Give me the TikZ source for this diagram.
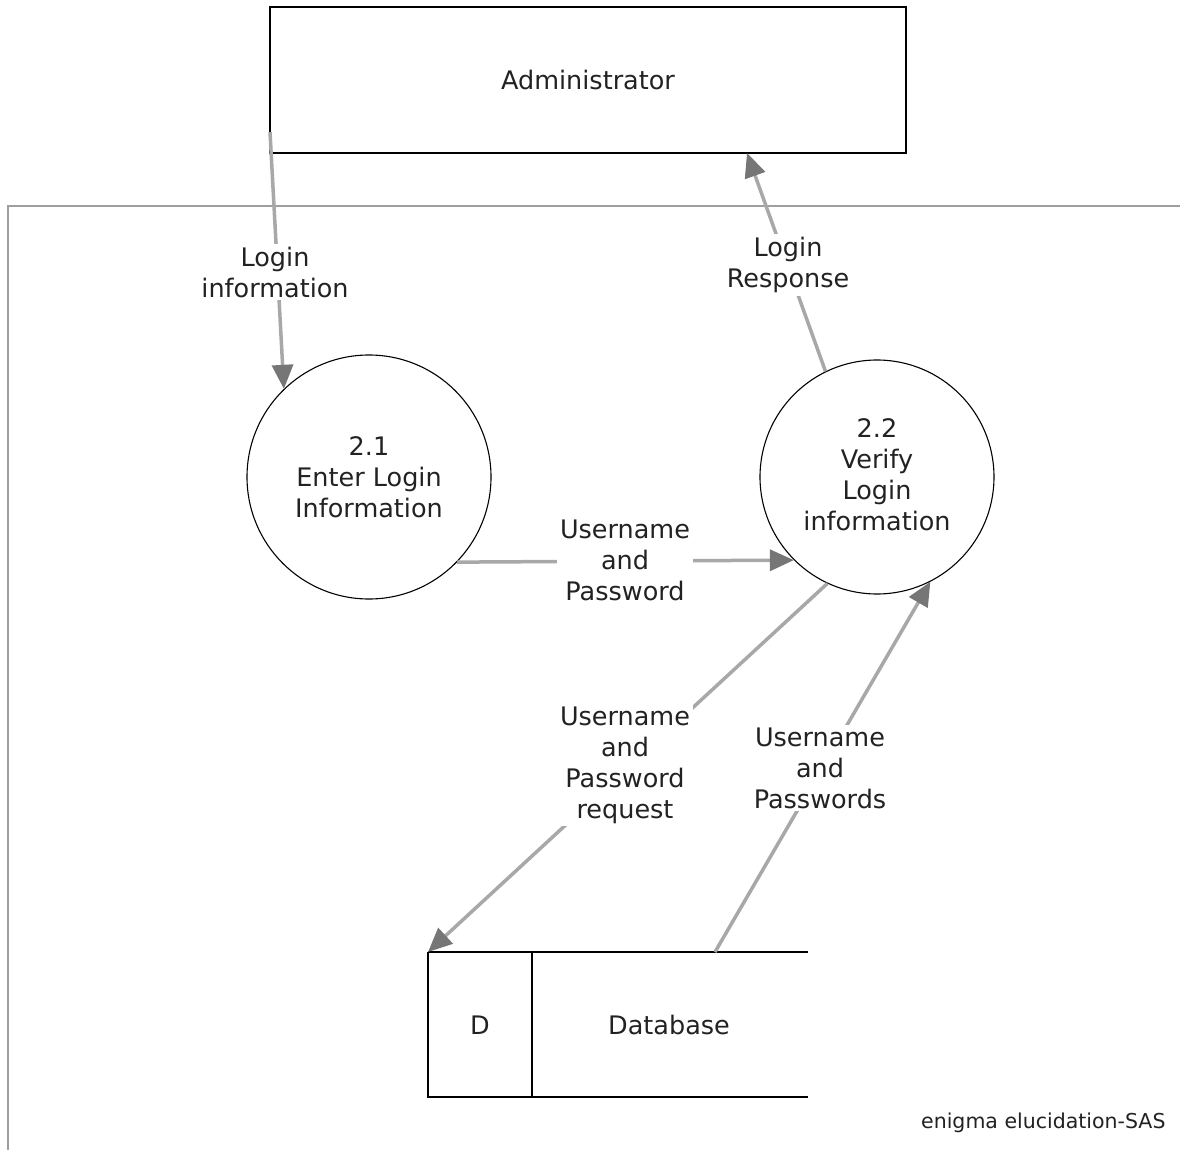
\documentclass[tikz,border=0pt]{standalone}
\usepackage{fontspec}
\setmainfont{DejaVu Sans}
\usetikzlibrary{arrows.meta,calc}
\definecolor{flowgray}{HTML}{A8A8A8}
\definecolor{tipgray}{HTML}{767676}
\definecolor{txt}{HTML}{222222}
\tikzset{
  flow/.style={draw=flowgray, line width=3.5pt, -{Triangle[length=24pt,width=21pt,color=tipgray]}},
  flowlabel/.style={fill=white, inner sep=3pt, align=center, text=txt, font=\fontsize{25.5}{31}\selectfont},
  proc/.style={circle, draw=black, line width=1.1pt, align=center, text=txt, font=\fontsize{25.5}{31}\selectfont, inner sep=0pt},
  entity/.style={draw=black, line width=1.5pt, text=txt, font=\fontsize{25.5}{31}\selectfont},
  boundary/.style={draw=gray!75, line width=2pt},
  store/.style={draw=black, line width=1.2pt},
  storetop/.style={draw=black, line width=2.6pt},
  storetext/.style={text=txt, font=\fontsize{25.5}{31}\selectfont}
}
\begin{document}
\begin{tikzpicture}[x=1pt,y=-1pt]
\useasboundingbox (0,0) rectangle (1180,1150);
% system boundary
\draw[boundary] (8,1150) -- (8,206) -- (1180,206);
% external entity
\node[entity, minimum width=636pt, minimum height=146pt, inner sep=0pt] (adm) at (588,80) {Administrator};
% processes
\node[proc, minimum size=244pt] (c1) at (369,477) {2.1\\Enter Login\\Information};
\node[proc, minimum size=234pt] (c2) at (877,477) {};
\node[align=center, text=txt, font=\fontsize{25.5}{31}\selectfont] (c2t) at (877,475) {2.2\\Verify\\Login\\information};
% data store
\coordinate (dbtl) at (428,952);
\coordinate (dbtr) at (808,952);
\coordinate (dbbl) at (428,1097);
\coordinate (dbbr) at (808,1097);
\coordinate (dbdt) at (532,952);
\coordinate (dbdb) at (532,1097);
\coordinate (dbin) at (715,952);
\draw[store] (dbtl) -- (dbbl) -- (dbbr);
\draw[store] (dbdt) -- (dbdb);
\draw[storetop] (dbtl) -- (dbtr);
\node[storetext] (dbid) at (480,1025) {D};
\node[storetext] (dbname) at (669,1025) {Database};
% anchors on admin box
\coordinate (a1) at (270,132);
\coordinate (a2) at (747,153);
% flows
\draw[flow] (a1) -- (c1.134);
\draw[flow] (c2.116) -- (a2);
\draw[flow] (c1.-44) -- (c2.225);
\draw[flow] (c2.245) -- (dbtl);
\draw[flow] (dbin) -- (c2.297);
% labels
\node[flowlabel] (l1) at (275,272) {Login\\information};
\node[flowlabel] (l2) at (788,265) {Login\\Response};
\node[flowlabel] (l3) at (625,560) {Username\\and\\Password};
\node[flowlabel] (l4) at (625,765) {Username\\and\\Password\\request};
\node[flowlabel] (l5) at (820,768) {Username\\and\\Passwords};
% footer
\node[anchor=east, text=txt, font=\fontsize{20.5}{24}\selectfont] (foot) at (1169,1123) {enigma elucidation-SAS};
\end{tikzpicture}
\end{document}
